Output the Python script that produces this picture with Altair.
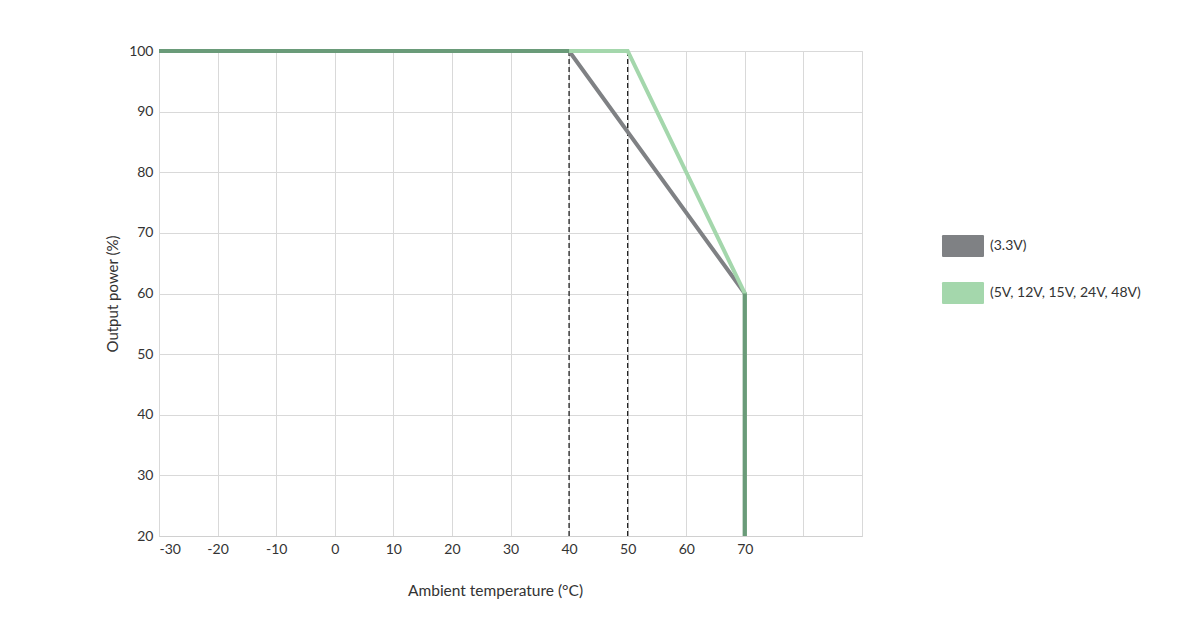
import altair as alt
import pandas as pd

# Data
temp_33 = [-30, 40, 70, 70]
power_33 = [100, 100, 60, 20]
temp_other = [-30, 50, 70, 70]
power_other = [100, 100, 60, 20]
# Shared segments (where both curves coincide)
overlap_temp = [-30, 40, None, 70, 70]
overlap_power = [100, 100, None, 60, 20]
dashed_temps = [40, 50]
series_names = ["(3.3V)", "(5V, 12V, 15V, 24V, 48V)"]
series_colors = ["#7f8184", "#a4d7ac"]
overlap_color = "#6a9b79"
x_ticks = list(range(-30, 100, 10))
y_ticks = list(range(20, 110, 10))

df33 = pd.DataFrame({"temp": temp_33, "power": power_33, "series": series_names[0],
                     "order": list(range(len(temp_33)))})
dfo = pd.DataFrame({"temp": temp_other, "power": power_other, "series": series_names[1],
                    "order": list(range(len(temp_other)))})
df = pd.concat([df33, dfo], ignore_index=True)

ov_rows = []
seg = 0
for i, (t, p) in enumerate(zip(overlap_temp, overlap_power)):
    if t is None:
        seg += 1
        continue
    ov_rows.append({"temp": t, "power": p, "seg": seg, "order": i})
ov = pd.DataFrame(ov_rows)

dash_df = pd.DataFrame({"temp": dashed_temps, "top": [100] * len(dashed_temps), "bottom": [20] * len(dashed_temps)})

FONT = "Lato"
TEXT = "#333333"

x_scale = alt.Scale(domain=[-30, 90], nice=False, zero=False)
y_scale = alt.Scale(domain=[20, 100], nice=False, zero=False)

x_axis = alt.Axis(
    values=x_ticks,
    labelExpr="datum.value <= 70 ? '' + datum.value : ''",
    title="Ambient temperature (°C)",
    titleX=336,
    titlePadding=27,
    grid=True,
    gridColor="#d9d9d9",
    domainColor="#d0d0d0",
    ticks=False,
    labelPadding=6,
    labelFontSize=14,
    labelColor=TEXT,
    titleFontSize=15.5,
    titleFontWeight="normal",
    titleColor=TEXT,
    labelFont=FONT,
    titleFont=FONT,
)
y_axis = alt.Axis(
    values=y_ticks,
    title="Output power (%)",
    titlePadding=8,
    grid=True,
    gridColor="#d9d9d9",
    domain=False,
    ticks=False,
    labelPadding=6,
    labelFontSize=14,
    labelColor=TEXT,
    titleFontSize=15,
    titleFontWeight="normal",
    titleColor=TEXT,
    labelFont=FONT,
    titleFont=FONT,
)

ROUNDED_RECT = (
    "M-0.94,-0.52H0.94A0.06,0.06 0 0 1 1,-0.46V0.46A0.06,0.06 0 0 1 0.94,0.52"
    "H-0.94A0.06,0.06 0 0 1 -1,0.46V-0.46A0.06,0.06 0 0 1 -0.94,-0.52Z"
)

line33 = alt.Chart(df33).mark_line(strokeWidth=4, strokeJoin="miter", color=series_colors[0]).encode(
    x=alt.X("temp:Q", scale=x_scale, axis=x_axis),
    y=alt.Y("power:Q", scale=y_scale, axis=y_axis),
    order="order:Q",
)
line_other = alt.Chart(dfo).mark_line(strokeWidth=4, strokeJoin="miter", color=series_colors[1]).encode(
    x=alt.X("temp:Q", scale=x_scale),
    y=alt.Y("power:Q", scale=y_scale),
    order="order:Q",
)

# invisible points that only provide the filled-rectangle legend
legend_layer = alt.Chart(df).mark_point(filled=True, opacity=0, size=1).encode(
    x=alt.X("temp:Q", scale=x_scale),
    y=alt.Y("power:Q", scale=y_scale),
    fill=alt.Fill(
        "series:N",
        scale=alt.Scale(domain=series_names, range=series_colors),
        legend=alt.Legend(
            title=None,
            orient="none",
            legendX=783,
            legendY=174,
            symbolType=ROUNDED_RECT,
            symbolSize=1764,
            symbolStrokeWidth=0,
            symbolOpacity=1,
            rowPadding=15,
            labelOffset=6,
            labelFontSize=14,
            labelFont=FONT,
            labelColor=TEXT,
        ),
    ),
)

overlap = alt.Chart(ov).mark_line(strokeWidth=4, color=overlap_color).encode(
    x=alt.X("temp:Q", scale=x_scale),
    y=alt.Y("power:Q", scale=y_scale),
    detail="seg:N",
    order="order:Q",
)

dashes = alt.Chart(dash_df).mark_rule(color="#222222", strokeDash=[5, 3], strokeWidth=1.3).encode(
    x=alt.X("temp:Q", scale=x_scale),
    y=alt.Y("top:Q", scale=y_scale),
    y2="bottom:Q",
)

chart = alt.layer(dashes, line33, line_other, overlap, legend_layer).properties(
    width=703,
    height=485,
    autosize=alt.AutoSizeParams(type="none"),
    padding={"left": 151, "top": 43, "right": 319, "bottom": 80},
    background="white",
).configure_view(stroke="#d9d9d9", strokeWidth=1)

chart.save("out.html", embed_options={"renderer": "svg", "actions": False})
